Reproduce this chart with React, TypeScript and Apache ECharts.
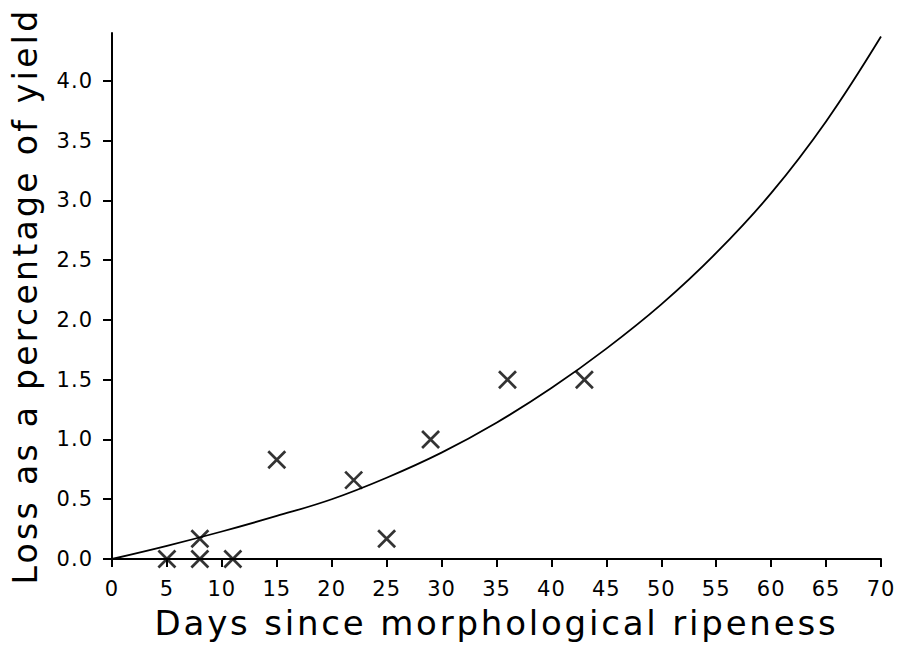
import React, { useEffect, useRef } from "react";
import * as echarts from "echarts";

// Observed points (days since morphological ripeness, loss %)
const obsDays = [5, 8, 8, 11, 15, 22, 25, 29, 36, 43];
const obsLoss = [0.0, 0.0, 0.17, 0.0, 0.83, 0.66, 0.17, 1.0, 1.5, 1.5];

// Fitted curve
const curveDays = [0, 5, 10, 15, 20, 25, 30, 35, 40, 45, 50, 55, 60, 65, 70];
const curveLoss = [0, 0.11, 0.23, 0.36, 0.5, 0.68, 0.89, 1.14, 1.43, 1.76, 2.13, 2.56, 3.06, 3.66, 4.37];

const xTicks = [0, 5, 10, 15, 20, 25, 30, 35, 40, 45, 50, 55, 60, 65, 70];
const yTicks = [0, 0.5, 1.0, 1.5, 2.0, 2.5, 3.0, 3.5, 4.0];

const xTitle = "Days since morphological ripeness";
const yTitle = "Loss as a percentage of yield";

const FONT = "DejaVu Sans";

export default function App() {
  const ref = useRef<HTMLDivElement>(null);
  useEffect(() => {
    if (!ref.current) return;
    const chart = echarts.init(ref.current, null, { renderer: "svg" });
    const axisText = { color: "#000", fontFamily: FONT, fontSize: 21 };
    chart.setOption({
      animation: false,
      backgroundColor: "#fff",
      grid: { left: 112, right: 17, top: 33, bottom: 96, containLabel: false },
      xAxis: {
        type: "value",
        min: 0,
        max: 70,
        interval: 5,
        name: xTitle,
        nameLocation: "middle",
        nameGap: 47,
        nameTextStyle: { color: "#000", fontFamily: FONT, fontSize: 34 },
        axisLine: { show: true, onZero: false, lineStyle: { color: "#000", width: 2 } },
        axisTick: { show: true, length: 8, inside: false, lineStyle: { color: "#000", width: 2 }, customValues: xTicks },
        axisLabel: { ...axisText, margin: 19, customValues: xTicks, formatter: (v: number) => String(v) },
        splitLine: { show: false },
      },
      yAxis: {
        type: "value",
        min: 0,
        max: 4.4,
        interval: 0.5,
        name: yTitle,
        nameLocation: "middle",
        nameGap: 70,
        nameTextStyle: { color: "#000", fontFamily: FONT, fontSize: 33 },
        axisLine: { show: true, onZero: false, lineStyle: { color: "#000", width: 2 } },
        axisTick: { show: true, length: 9, inside: false, lineStyle: { color: "#000", width: 2 }, customValues: yTicks },
        axisLabel: { ...axisText, margin: 19, customValues: yTicks, formatter: (v: number) => v.toFixed(1) },
        splitLine: { show: false },
      },
      series: [
        {
          type: "line",
          data: curveDays.map((d, i) => [d, curveLoss[i]]),
          smooth: 0.4,
          showSymbol: false,
          symbol: "none",
          lineStyle: { color: "#000", width: 1.8 },
          silent: true,
          z: 2,
        },
        {
          type: "scatter",
          data: obsDays.map((d, i) => [d, obsLoss[i]]),
          symbol: "path://M0,0L10,10M10,0L0,10",
          symbolSize: 17,
          itemStyle: { color: "transparent", borderColor: "#000", borderWidth: 2.7 },
          silent: true,
          z: 3,
        },
      ],
    });
    const applySpacing = () => {
      if (!ref.current) return;
      ref.current.querySelectorAll("text").forEach((t) => {
        const s = t.textContent || "";
        if (s === xTitle) t.setAttribute("letter-spacing", "2.8");
        else if (s === yTitle) t.setAttribute("letter-spacing", "3.3");
        else if (/^\d/.test(s)) t.setAttribute("letter-spacing", "1");
      });
    };
    applySpacing();
    chart.on("finished", applySpacing);
    return () => chart.dispose();
  }, []);
  return <div ref={ref} style={{ position: "fixed", left: 0, top: 0, width: 898, height: 655 }} />;
}
